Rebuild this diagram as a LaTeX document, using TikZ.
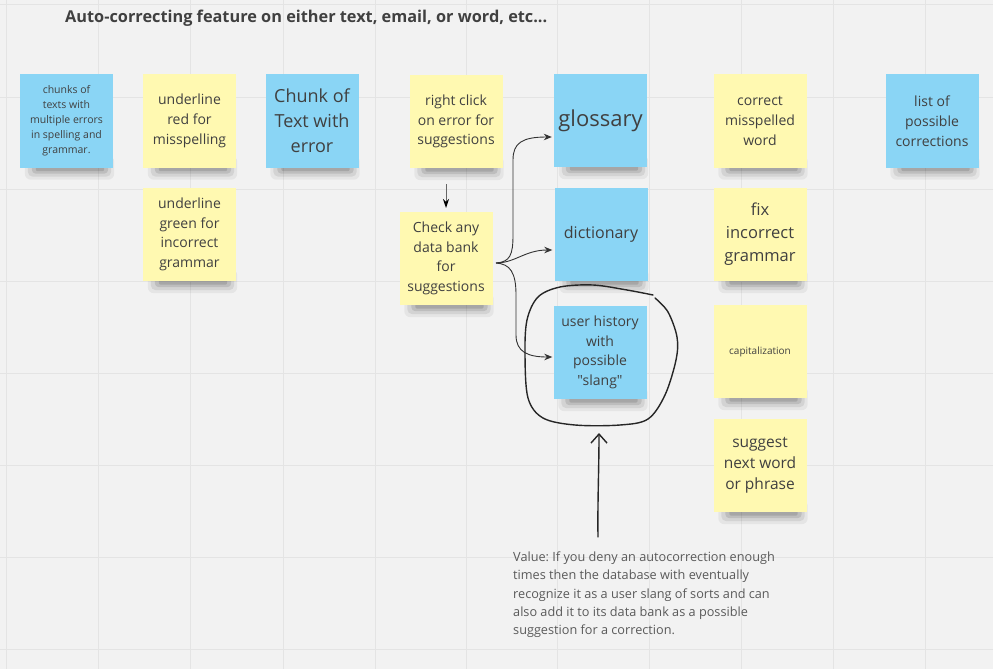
\documentclass[tikz,border=0pt]{standalone}
\usepackage{fontspec}
\setmainfont{Open Sans}[Ligatures=TeXOff]
\usetikzlibrary{arrows.meta,calc}
\pgfdeclarelayer{bg}
\pgfsetlayers{bg,main}
\definecolor{paper}{HTML}{F2F2F2}
\definecolor{gridc}{HTML}{E4E4E4}
\definecolor{nblue}{RGB}{138,213,245}
\definecolor{nyellow}{HTML}{FFF9B1}
\definecolor{ink}{HTML}{404040}
\definecolor{valink}{HTML}{5A5A5A}
\definecolor{linec}{HTML}{333333}
\newcommand\fs[2]{\fontsize{#1}{#2}\selectfont}
\frenchspacing
\tikzset{
  note/.style={minimum width=93pt, minimum height=93pt, inner sep=0pt, align=center, text=ink},
  bluenote/.style={note, fill=nblue},
  yellownote/.style={note, fill=nyellow},
  conn/.style={draw=linec, line width=0.9pt, -{Stealth[length=8pt,width=6.5pt]}},
  sketch/.style={draw=black!85, line width=1.4pt, line cap=round, line join=round},
  sketcharrow/.style={sketch, -{Straight Barb[length=9pt,width=16pt,line width=1.4pt]}},
}
\begin{document}
\begin{tikzpicture}[x=1pt,y=-1pt]
\useasboundingbox (0,0) rectangle (993,669);
\begin{pgfonlayer}{bg}
  \fill[paper] (0,0) rectangle (993,669);
  \foreach \gx in {6,98,190,283,375,466,557,649,741,833,925}
    \draw[gridc, line width=1pt] (\gx,0) -- (\gx,669);
  \foreach \gy in {5,97,189,281,373,465,557,649}
    \draw[gridc, line width=1pt] (0,\gy) -- (993,\gy);
\end{pgfonlayer}

% title
\node[anchor=west, font=\bfseries\fs{16.3}{19}, text=ink, inner sep=0pt] (title) at (65,18.5)
  {Auto-correcting feature on either text, email, or word, etc...};

% sticky notes
\node[bluenote, font=\fs{10.5}{15}] (chunks) at (66.5,121)
  {chunks of\\texts with\\multiple errors\\in spelling and\\grammar.};
\node[yellownote, font=\fs{14}{20}] (ured) at (189.5,121)
  {underline\\red for\\misspelling};
\node[yellownote, font=\fs{14}{19.5}] (ugreen) at (189.5,234.5)
  {underline\\green for\\incorrect\\grammar};
\node[bluenote, font=\fs{18}{25}] (chunk) at (312,121)
  {Chunk of\\Text with\\error};
\node[yellownote, font=\fs{14}{19.5}] (rclick) at (456,121.5)
  {right click\\on error for\\suggestions};
\node[yellownote, font=\fs{14}{19.5}] (check) at (446,258.5)
  {Check any\\data bank\\for\\suggestions};
\node[bluenote, font=\fs{22}{26}] (gloss) at (600.5,120.5) {glossary};
\node[bluenote, font=\fs{16}{20}] (dict) at (601,234.5) {dictionary};
\node[bluenote, font=\fs{14}{19.5}] (hist) at (600,352.5)
  {user history\\with\\possible\\"slang"};
\node[yellownote, font=\fs{14}{20}] (correct) at (760,121)
  {correct\\misspelled\\word};
\node[bluenote, font=\fs{14}{20}] (list) at (932,121)
  {list of\\possible\\corrections};
\node[yellownote, font=\fs{16.5}{23}] (fix) at (760,234.5)
  {fix\\incorrect\\grammar};
\node[yellownote, font=\fs{10}{13}] (cap) at (760,351.5) {capitalization};
\node[yellownote, font=\fs{15.5}{21}] (suggest) at (760,465.5)
  {suggest\\next word\\or phrase};

% shadows under the notes
\foreach \n in {chunks,ured,ugreen,chunk,rclick,check,gloss,dict,hist,correct,list,fix,cap,suggest}{
  \begin{pgfonlayer}{bg}
    \fill[black, opacity=0.05, rounded corners=6pt]
      ([xshift=5pt,yshift=12pt]\n.south west) rectangle ([xshift=1pt,yshift=-12pt]\n.south east);
    \fill[black, opacity=0.08, rounded corners=5pt]
      ([xshift=8pt,yshift=10pt]\n.south west) rectangle ([xshift=-2pt,yshift=-9pt]\n.south east);
    \fill[black, opacity=0.10, rounded corners=4pt]
      ([xshift=12pt,yshift=8pt]\n.south west) rectangle ([xshift=-5pt,yshift=-6pt]\n.south east);
    \fill[black, opacity=0.12, rounded corners=2pt]
      ([xshift=16pt,yshift=6pt]\n.south west) rectangle ([xshift=-9pt,yshift=-3.5pt]\n.south east);
  \end{pgfonlayer}
}

% small arrow from "right click" down to "check"
\coordinate (rcfrom) at (446,184);
\coordinate (rcto) at (446,208);
\draw[draw=gray!80!black, line width=1pt, -{Stealth[length=9pt,width=6pt,black]}] (rcfrom) -- (rcto);

% branching curves from "check"
\coordinate (br) at (496,263);
\draw[conn, shorten >=2pt] (br) .. controls (510,262) and (513,255) .. (513,235)
  -- (513,160) .. controls (513,143) and (522,137) .. ([yshift=-16.5pt]gloss.west);
\draw[conn, shorten >=2pt] (br) .. controls (515,263) and (525,250) .. ([yshift=-15.5pt]dict.west);
\draw[conn, shorten >=1pt] (br) .. controls (510,264) and (516,272) .. (516,295)
  -- (516,335) .. controls (516,352) and (528,357) .. ([yshift=-4.5pt]hist.west);

% hand-drawn loop around "user history"
\draw[sketch] plot[smooth, tension=0.55] coordinates {
  (653,295) (627,290) (593,285) (560,287) (538,297) (527,320) (525,355) (528,398)
  (543,418) (575,425) (620,425) (648,419) (665,395) (676,360) (677,337) (668,312) (655,298)};

% value note and arrow
\node[anchor=north west, align=left, inner sep=0pt, font=\fs{12.7}{18.3}, text=valink] (value) at (513,551.5)
  {Value: If you deny an autocorrection enough\\
   times then the database with eventually\\
   recognize it as a user slang of sorts and can\\
   also add it to its data bank as a possible\\
   suggestion for a correction.};
\coordinate (vfrom) at (598,537);
\coordinate (vto) at (599,433);
\draw[sketcharrow] (vfrom) .. controls (597.5,500) and (599,470) .. (vto);
\end{tikzpicture}
\end{document}
